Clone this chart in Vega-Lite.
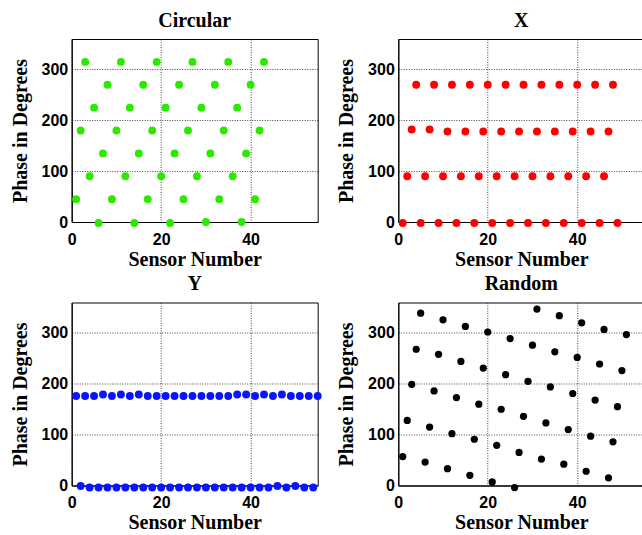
{
  "$schema": "https://vega.github.io/schema/vega-lite/v6.json",
  "background": "white",
  "padding": {"left": 8.7, "top": 10, "right": 0, "bottom": 0},
  "bounds": "flush",
  "columns": 2,
  "spacing": {"row": 80.5, "column": 80.6},
  "config": {
    "view": {"stroke": "black", "strokeWidth": 1},
    "title": {"font": "Liberation Serif", "fontSize": 20, "fontWeight": "bold", "color": "black", "baseline": "alphabetic", "offset": 8.5, "anchor": "middle"},
    "axis": {
      "labelFont": "Liberation Sans", "labelFontSize": 16, "labelFontWeight": "bold", "labelColor": "black",
      "titleFont": "Liberation Serif", "titleFontSize": 20, "titleFontWeight": "bold", "titleColor": "black",
      "domainColor": "black", "domainWidth": 1, "ticks": false,
      "grid": true, "gridColor": "#444444", "gridDash": [1, 1.5], "gridWidth": 1, "gridOpacity": 1,
      "labelFlush": false, "labelOverlap": false
    },
    "axisX": {"labelPadding": 9, "titlePadding": 2},
    "axisY": {"labelPadding": 4, "titlePadding": 11}
  },
  "concat": [
    {
      "width": 246, "height": 183,
      "title": "Circular",
      "data": {"values": [
        {"sensor": 1, "phase": 45}, {"sensor": 2, "phase": 180}, {"sensor": 3, "phase": 315}, {"sensor": 4, "phase": 90},
        {"sensor": 5, "phase": 225}, {"sensor": 6, "phase": -2}, {"sensor": 7, "phase": 135}, {"sensor": 8, "phase": 270},
        {"sensor": 9, "phase": 45}, {"sensor": 10, "phase": 180}, {"sensor": 11, "phase": 315}, {"sensor": 12, "phase": 90},
        {"sensor": 13, "phase": 225}, {"sensor": 14, "phase": -2}, {"sensor": 15, "phase": 135}, {"sensor": 16, "phase": 270},
        {"sensor": 17, "phase": 45}, {"sensor": 18, "phase": 180}, {"sensor": 19, "phase": 315}, {"sensor": 20, "phase": 90},
        {"sensor": 21, "phase": 225}, {"sensor": 22, "phase": -2}, {"sensor": 23, "phase": 135}, {"sensor": 24, "phase": 270},
        {"sensor": 25, "phase": 45}, {"sensor": 26, "phase": 180}, {"sensor": 27, "phase": 315}, {"sensor": 28, "phase": 90},
        {"sensor": 29, "phase": 225}, {"sensor": 30, "phase": 0}, {"sensor": 31, "phase": 135}, {"sensor": 32, "phase": 270},
        {"sensor": 33, "phase": 45}, {"sensor": 34, "phase": 180}, {"sensor": 35, "phase": 315}, {"sensor": 36, "phase": 90},
        {"sensor": 37, "phase": 225}, {"sensor": 38, "phase": 0}, {"sensor": 39, "phase": 135}, {"sensor": 40, "phase": 270},
        {"sensor": 41, "phase": 45}, {"sensor": 42, "phase": 180}, {"sensor": 43, "phase": 315}
      ]},
      "mark": {"type": "circle", "size": 62, "opacity": 1, "color": "#2bea00", "clip": false},
      "encoding": {
        "x": {"field": "sensor", "type": "quantitative", "scale": {"domain": [0, 55], "nice": false, "zero": false}, "axis": {"values": [0, 20, 40], "title": "Sensor Number"}},
        "y": {"field": "phase", "type": "quantitative", "scale": {"domain": [0, 360], "nice": false}, "axis": {"values": [0, 100, 200, 300], "title": "Phase in Degrees"}}
      }
    },
    {
      "width": 246, "height": 183,
      "title": "X",
      "data": {"values": [
        {"sensor": 1, "phase": -2}, {"sensor": 2, "phase": 90}, {"sensor": 3, "phase": 182}, {"sensor": 4, "phase": 270},
        {"sensor": 5, "phase": -2}, {"sensor": 6, "phase": 90}, {"sensor": 7, "phase": 182}, {"sensor": 8, "phase": 270},
        {"sensor": 9, "phase": -2}, {"sensor": 10, "phase": 90}, {"sensor": 11, "phase": 178}, {"sensor": 12, "phase": 270},
        {"sensor": 13, "phase": -2}, {"sensor": 14, "phase": 90}, {"sensor": 15, "phase": 178}, {"sensor": 16, "phase": 270},
        {"sensor": 17, "phase": -2}, {"sensor": 18, "phase": 90}, {"sensor": 19, "phase": 178}, {"sensor": 20, "phase": 270},
        {"sensor": 21, "phase": -2}, {"sensor": 22, "phase": 90}, {"sensor": 23, "phase": 178}, {"sensor": 24, "phase": 270},
        {"sensor": 25, "phase": -2}, {"sensor": 26, "phase": 90}, {"sensor": 27, "phase": 178}, {"sensor": 28, "phase": 270},
        {"sensor": 29, "phase": -2}, {"sensor": 30, "phase": 90}, {"sensor": 31, "phase": 178}, {"sensor": 32, "phase": 270},
        {"sensor": 33, "phase": -2}, {"sensor": 34, "phase": 90}, {"sensor": 35, "phase": 178}, {"sensor": 36, "phase": 270},
        {"sensor": 37, "phase": -2}, {"sensor": 38, "phase": 90}, {"sensor": 39, "phase": 178}, {"sensor": 40, "phase": 270},
        {"sensor": 41, "phase": -2}, {"sensor": 42, "phase": 90}, {"sensor": 43, "phase": 178}, {"sensor": 44, "phase": 270},
        {"sensor": 45, "phase": -2}, {"sensor": 46, "phase": 90}, {"sensor": 47, "phase": 178}, {"sensor": 48, "phase": 270},
        {"sensor": 49, "phase": -2}
      ]},
      "mark": {"type": "circle", "size": 62, "opacity": 1, "color": "#ff0000", "clip": false},
      "encoding": {
        "x": {"field": "sensor", "type": "quantitative", "scale": {"domain": [0, 55], "nice": false, "zero": false}, "axis": {"values": [0, 20, 40], "title": "Sensor Number"}},
        "y": {"field": "phase", "type": "quantitative", "scale": {"domain": [0, 360], "nice": false}, "axis": {"values": [0, 100, 200, 300], "title": "Phase in Degrees"}}
      }
    },
    {
      "width": 246, "height": 183,
      "title": "Y",
      "data": {"values": [
        {"sensor": 1, "phase": 176}, {"sensor": 2, "phase": -1}, {"sensor": 3, "phase": 176}, {"sensor": 4, "phase": -4},
        {"sensor": 5, "phase": 176}, {"sensor": 6, "phase": -4}, {"sensor": 7, "phase": 179}, {"sensor": 8, "phase": -4},
        {"sensor": 9, "phase": 176}, {"sensor": 10, "phase": -4}, {"sensor": 11, "phase": 179}, {"sensor": 12, "phase": -4},
        {"sensor": 13, "phase": 176}, {"sensor": 14, "phase": -4}, {"sensor": 15, "phase": 179}, {"sensor": 16, "phase": -4},
        {"sensor": 17, "phase": 176}, {"sensor": 18, "phase": -4}, {"sensor": 19, "phase": 176}, {"sensor": 20, "phase": -4},
        {"sensor": 21, "phase": 176}, {"sensor": 22, "phase": -4}, {"sensor": 23, "phase": 176}, {"sensor": 24, "phase": -4},
        {"sensor": 25, "phase": 176}, {"sensor": 26, "phase": -4}, {"sensor": 27, "phase": 176}, {"sensor": 28, "phase": -4},
        {"sensor": 29, "phase": 176}, {"sensor": 30, "phase": -4}, {"sensor": 31, "phase": 176}, {"sensor": 32, "phase": -4},
        {"sensor": 33, "phase": 176}, {"sensor": 34, "phase": -4}, {"sensor": 35, "phase": 176}, {"sensor": 36, "phase": -4},
        {"sensor": 37, "phase": 179}, {"sensor": 38, "phase": -4}, {"sensor": 39, "phase": 179}, {"sensor": 40, "phase": -4},
        {"sensor": 41, "phase": 176}, {"sensor": 42, "phase": -4}, {"sensor": 43, "phase": 179}, {"sensor": 44, "phase": -4},
        {"sensor": 45, "phase": 176}, {"sensor": 46, "phase": -1}, {"sensor": 47, "phase": 179}, {"sensor": 48, "phase": -4},
        {"sensor": 49, "phase": 176}, {"sensor": 50, "phase": -1}, {"sensor": 51, "phase": 176}, {"sensor": 52, "phase": -4},
        {"sensor": 53, "phase": 176}, {"sensor": 54, "phase": -4}, {"sensor": 55, "phase": 176}
      ]},
      "mark": {"type": "circle", "size": 62, "opacity": 1, "color": "#0a14ff", "clip": false},
      "encoding": {
        "x": {"field": "sensor", "type": "quantitative", "scale": {"domain": [0, 55], "nice": false, "zero": false}, "axis": {"values": [0, 20, 40], "title": "Sensor Number"}},
        "y": {"field": "phase", "type": "quantitative", "scale": {"domain": [0, 360], "nice": false}, "axis": {"values": [0, 100, 200, 300], "title": "Phase in Degrees"}}
      }
    },
    {
      "width": 246, "height": 183,
      "title": "Random",
      "data": {"values": [
        {"sensor": 1, "phase": 57}, {"sensor": 2, "phase": 128}, {"sensor": 3, "phase": 199}, {"sensor": 4, "phase": 268},
        {"sensor": 5, "phase": 339}, {"sensor": 6, "phase": 46}, {"sensor": 7, "phase": 115}, {"sensor": 8, "phase": 186},
        {"sensor": 9, "phase": 258}, {"sensor": 10, "phase": 326}, {"sensor": 11, "phase": 33}, {"sensor": 12, "phase": 102},
        {"sensor": 13, "phase": 173}, {"sensor": 14, "phase": 244}, {"sensor": 15, "phase": 313}, {"sensor": 16, "phase": 20},
        {"sensor": 17, "phase": 91}, {"sensor": 18, "phase": 160}, {"sensor": 19, "phase": 231}, {"sensor": 20, "phase": 302},
        {"sensor": 21, "phase": 7}, {"sensor": 22, "phase": 79}, {"sensor": 23, "phase": 150}, {"sensor": 24, "phase": 218},
        {"sensor": 25, "phase": 289}, {"sensor": 26, "phase": -4}, {"sensor": 27, "phase": 65}, {"sensor": 28, "phase": 136},
        {"sensor": 29, "phase": 205}, {"sensor": 30, "phase": 276}, {"sensor": 31, "phase": 347}, {"sensor": 32, "phase": 52},
        {"sensor": 33, "phase": 123}, {"sensor": 34, "phase": 194}, {"sensor": 35, "phase": 263}, {"sensor": 36, "phase": 334},
        {"sensor": 37, "phase": 42}, {"sensor": 38, "phase": 110}, {"sensor": 39, "phase": 181}, {"sensor": 40, "phase": 252},
        {"sensor": 41, "phase": 320}, {"sensor": 42, "phase": 28}, {"sensor": 43, "phase": 97}, {"sensor": 44, "phase": 168},
        {"sensor": 45, "phase": 239}, {"sensor": 46, "phase": 307}, {"sensor": 47, "phase": 15}, {"sensor": 48, "phase": 86},
        {"sensor": 49, "phase": 155}, {"sensor": 50, "phase": 226}, {"sensor": 51, "phase": 297}
      ]},
      "mark": {"type": "circle", "size": 52, "opacity": 1, "color": "#000000", "clip": false},
      "encoding": {
        "x": {"field": "sensor", "type": "quantitative", "scale": {"domain": [0, 55], "nice": false, "zero": false}, "axis": {"values": [0, 20, 40], "title": "Sensor Number"}},
        "y": {"field": "phase", "type": "quantitative", "scale": {"domain": [0, 360], "nice": false}, "axis": {"values": [0, 100, 200, 300], "title": "Phase in Degrees"}}
      }
    }
  ]
}
